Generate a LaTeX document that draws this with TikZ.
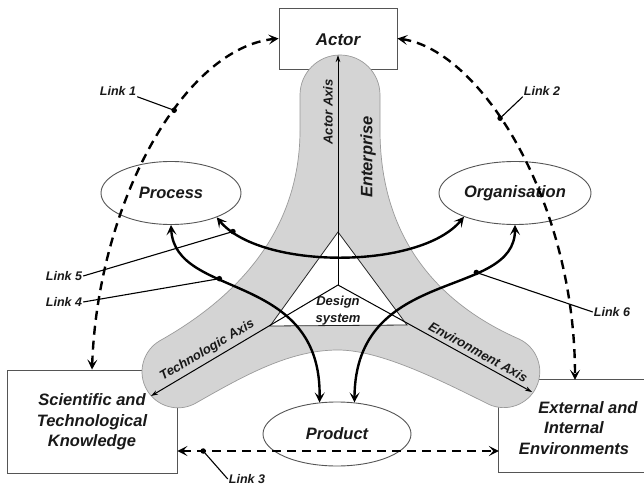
\documentclass[tikz,border=0pt]{standalone}
\usepackage{fontspec}
\setmainfont{Liberation Sans}
\usetikzlibrary{arrows.meta,shapes.geometric}
\definecolor{bandgray}{HTML}{D4D4D4}
\definecolor{bandedge}{HTML}{9A9A9A}
\definecolor{boxedge}{HTML}{555555}
\begin{document}
\begin{tikzpicture}[x=1pt,y=-1pt,
  >={Stealth[length=10pt,width=10pt,inset=4.5pt]},
  bigtxt/.style={font=\fontsize{16.5}{20.5}\selectfont\bfseries\itshape, text=black!90},
  smalltxt/.style={font=\fontsize{13}{17}\selectfont\bfseries\itshape, text=black!90},
  linklab/.style={font=\fontsize{12.5}{15}\selectfont\bfseries\itshape, text=black!90, inner sep=1pt},
  boxnode/.style={rectangle, draw=boxedge, line width=0.9pt, inner sep=0pt},
  boxline/.style={draw=boxedge, line width=0.9pt},
  ellnode/.style={ellipse, draw=boxedge, line width=0.9pt, inner sep=0pt, bigtxt},
  dlink/.style={line width=2.4pt, dash pattern=on 9pt off 6pt, <->},
  slink/.style={line width=2.4pt, <->},
  axisline/.style={line width=1pt, -{Stealth[length=7pt,width=4.5pt]}},
  dotn/.style={circle, fill=black, inner sep=0pt, minimum size=5.5pt},
  leader/.style={line width=1.1pt},
]
\useasboundingbox (0,0) rectangle (644,486);
\fill[white] (0,0) rectangle (644,486);

% boxes (lines only)
\node[boxnode, minimum width=118pt, minimum height=61pt] (actor) at (338,38.5) {};
\node[boxnode, minimum width=170pt, minimum height=103pt] (sci) at (92,421.5) {};
\node[inner sep=0pt, minimum width=145pt, minimum height=92pt] (ext) at (571.5,426) {};
\draw[boxline] (ext.north east) -- (ext.north west) -- (ext.south west) -- (ext.south east);

% enterprise band
\filldraw[fill=bandgray, draw=bandedge, line width=0.7pt]
  (300,95) arc[start angle=180, end angle=360, radius=40]
  -- (380,130) .. controls (380,230) and (430,300) .. (519,339)
  arc[start angle=-65, end angle=115, radius=36]
  .. controls (440,380) and (380,350) .. (338,350)
  .. controls (290,350) and (245,375) .. (196,403)
  arc[start angle=60, end angle=240, radius=36]
  .. controls (250,290) and (300,220) .. (300,130) -- cycle;

% design system triangle and axes
\coordinate (ctr) at (338,285);
\coordinate (ttop) at (338,232);
\coordinate (tleft) at (270,326);
\coordinate (tright) at (407,325);
\coordinate (actend) at (338,55);
\coordinate (techend) at (151,396);
\coordinate (envend) at (532,392);
\filldraw[fill=white, draw=black!85, line width=0.8pt] (ttop) -- (tright) -- (tleft) -- cycle;
\draw[axisline] (ctr) -- (actend);
\draw[axisline] (ctr) -- (techend);
\draw[axisline] (ctr) -- (envend);

% texts
\node[bigtxt, font=\fontsize{17}{20}\selectfont\bfseries\itshape] (actortxt) at (338,40) {Actor};
\node[bigtxt, align=center] (scitxt) at (92,422) {Scientific and\\Technological\\Knowledge};
\node[bigtxt, align=center] (exttxt) at (574,428) {\hspace*{28pt}External and\\Internal\\Environments};
\node[smalltxt, rotate=90] (actaxlab) at (328,112) {Actor Axis};
\node[bigtxt, rotate=90] (entlab) at (368,157) {Enterprise};
\path (techend) -- (ctr) node[smalltxt, pos=0.33, sloped, above=1pt] (techlab) {Technologic Axis};
\path (ctr) -- (envend) node[smalltxt, pos=0.7, sloped, above=1pt] (envlab) {Environment Axis};
\node[smalltxt, align=center] (dslab) at (338,311) {Design\\system};

% ellipses
\node[ellnode, minimum width=140pt, minimum height=63pt] (process) at (171,193) {Process};
\node[ellnode, minimum width=152pt, minimum height=63pt] (organ) at (515,193) {Organisation};
\node[ellnode, minimum width=148pt, minimum height=64pt] (product) at (337,434) {Product};

% links
\coordinate (l3a) at ([yshift=-29.5pt]sci.east);
\draw[dlink] (sci.north) .. controls (98,200) and (185,48) .. (actor.west) node[dotn, pos=0.6] (d1) {};
\draw[dlink] (actor.east) .. controls (480,50) and (575,200) .. ([xshift=3.5pt]ext.north) node[dotn, pos=0.42] (d2) {};
\draw[dlink] (l3a) -- (ext.west |- l3a) node[dotn, pos=0.08] (d3) {};
\draw[slink] (process.south) .. controls (175,300) and (322,270) .. (product.119) node[dotn, pos=0.37] (d4) {};
\draw[slink] (process.-28) .. controls (260,270) and (420,270) .. (organ.-155) node[dotn, pos=0.1] (d5) {};
\draw[slink] (organ.south) .. controls (515,300) and (355,265) .. (product.61) node[dotn, pos=0.32] (d6) {};

% link labels
\node[linklab] (l1) at (118,91) {Link 1};
\node[linklab] (l2) at (542,91) {Link 2};
\node[linklab] (l3) at (247,479) {Link 3};
\node[linklab] (l4) at (64,302) {Link 4};
\node[linklab] (l5) at (64,276) {Link 5};
\node[linklab] (l6) at (612,312) {Link 6};
\draw[leader] (l1.south east) -- (d1.center);
\draw[leader] (l2.south west) -- (d2.center);
\draw[leader] (l3.west) -- (d3.center);
\draw[leader] (l4.east) -- (d4.center);
\draw[leader] (l5.east) -- (d5.center);
\draw[leader] (l6.west) -- (d6.center);
\end{tikzpicture}
\end{document}
